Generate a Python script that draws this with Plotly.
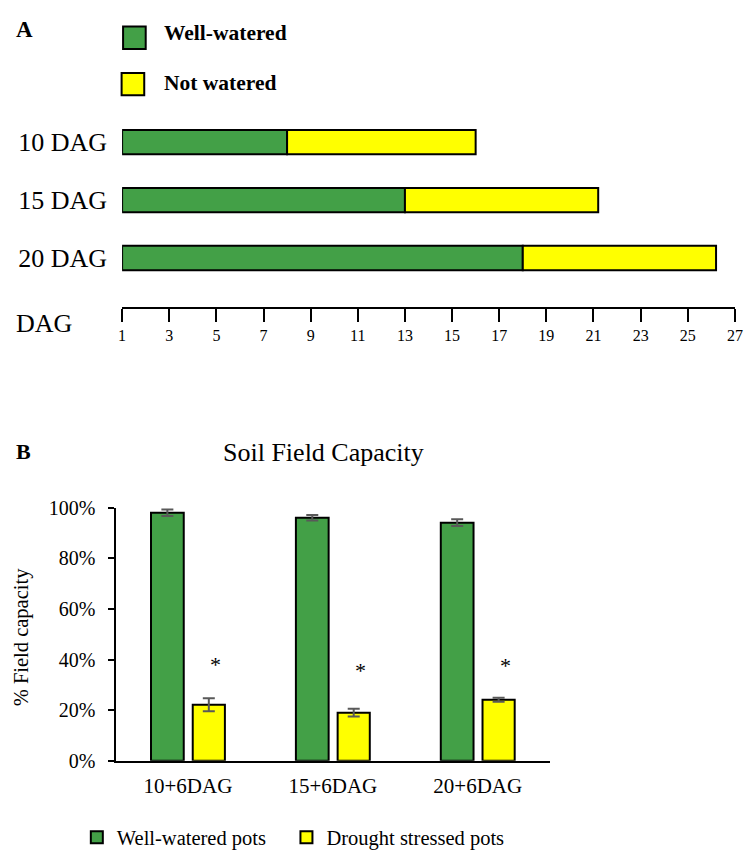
import plotly.graph_objects as go

# ---------------- Panel A data ----------------
stages = ["10 DAG", "15 DAG", "20 DAG"]
watered_start = [1, 1, 1]
watered_end = [8, 13, 18]
stress_end = [16, 21.2, 26.2]
dag_ticks = list(range(1, 28, 2))

# ---------------- Panel B data ----------------
groups = ["10+6DAG", "15+6DAG", "20+6DAG"]
well_fc = [0.981, 0.961, 0.942]
well_err = [0.013, 0.011, 0.013]
drought_fc = [0.221, 0.190, 0.241]
drought_err = [0.026, 0.015, 0.008]
star_y = [0.395, 0.373, 0.391]
fc_ticks = [0, 0.2, 0.4, 0.6, 0.8, 1.0]

GREEN = "#43A047"
YELLOW = "#FFFF00"
FONT = "Liberation Serif"
W, H = 756, 861


def px_x(x):
    return x / W


def px_y(y):
    return 1 - y / H


fig = go.Figure()

# Panel A: timeline bars
fig.add_trace(go.Bar(
    y=stages, x=[e - s for s, e in zip(watered_start, watered_end)], base=watered_start,
    orientation="h", width=0.42, name="Well-watered",
    marker=dict(color=GREEN, line=dict(color="black", width=2)),
    xaxis="x", yaxis="y", showlegend=False))
fig.add_trace(go.Bar(
    y=stages, x=[e - s for s, e in zip(watered_end, stress_end)], base=watered_end,
    orientation="h", width=0.42, name="Not watered",
    marker=dict(color=YELLOW, line=dict(color="black", width=2)),
    xaxis="x", yaxis="y", showlegend=False))

# Panel B: field capacity bars
fig.add_trace(go.Bar(
    x=groups, y=well_fc, name="Well-watered pots", width=0.226, offset=-0.255,
    marker=dict(color=GREEN, line=dict(color="black", width=2)),
    error_y=dict(type="data", array=well_err, color="#595959", thickness=2, width=6),
    xaxis="x2", yaxis="y2", legend="legend"))
fig.add_trace(go.Bar(
    x=groups, y=drought_fc, name="Drought stressed pots", width=0.222, offset=0.033,
    marker=dict(color=YELLOW, line=dict(color="black", width=2)),
    error_y=dict(type="data", array=drought_err, color="#595959", thickness=2, width=6),
    xaxis="x2", yaxis="y2", legend="legend2"))

annotations = [
    dict(text="<b>A</b>", x=px_x(10), y=px_y(19), xanchor="left", yanchor="middle",
         font=dict(size=23)),
    dict(text="<b>Well-watered</b>", x=px_x(161), y=px_y(23), xanchor="left", yanchor="middle",
         font=dict(size=21.5)),
    dict(text="<b>Not watered</b>", x=px_x(161), y=px_y(74), xanchor="left", yanchor="middle",
         font=dict(size=21.5)),
    dict(text="DAG", x=px_x(10), y=px_y(321), xanchor="left", yanchor="middle",
         font=dict(size=26)),
    dict(text="<b>B</b>", x=px_x(10), y=px_y(452), xanchor="left", yanchor="middle",
         font=dict(size=22)),
    dict(text="Soil Field Capacity", x=px_x(325), y=px_y(453), xanchor="center", yanchor="middle",
         font=dict(size=26)),
    dict(text="% Field capacity", x=px_x(18), y=px_y(642), xanchor="center", yanchor="middle",
         textangle=-90, font=dict(size=20.5)),
]
for a in annotations:
    a.update(xref="paper", yref="paper", showarrow=False)
    a["font"].update(family=FONT, color="black")

for g, sy in zip(groups, star_y):
    annotations.append(dict(text="*", x=g, y=sy, xref="x2", yref="y2", xshift=28, yshift=-4,
                            showarrow=False, xanchor="center", yanchor="middle",
                            font=dict(family=FONT, size=22, color="black")))

shapes = [
    dict(type="rect", xref="paper", yref="paper", x0=px_x(121), x1=px_x(144), y0=px_y(39), y1=px_y(16),
         fillcolor=GREEN, line=dict(color="black", width=2)),
    dict(type="rect", xref="paper", yref="paper", x0=px_x(119.5), x1=px_x(142.5), y0=px_y(86.5), y1=px_y(63.5),
         fillcolor=YELLOW, line=dict(color="black", width=2)),
]

legend_common = dict(orientation="h", y=px_y(848), xanchor="left", yanchor="middle",
                     font=dict(family=FONT, size=20.5, color="black"), bgcolor="rgba(0,0,0,0)")

# Panel A geometry: tick 1 at x=120, tick 27 at x=742.7; axis line at y=303.3
fig.update_layout(
    width=W, height=H, margin=dict(l=0, r=0, t=0, b=0),
    paper_bgcolor="white", plot_bgcolor="white",
    font=dict(family=FONT, color="black"),
    barmode="overlay",
    annotations=annotations, shapes=shapes,
    xaxis=dict(domain=[px_x(120), px_x(742.7)], range=[1, 27], anchor="y",
               showline=True, linecolor="black", linewidth=2, mirror=False,
               ticks="outside", ticklen=13, tickwidth=2, tickcolor="black",
               tickvals=dag_ticks, ticktext=[str(t) for t in dag_ticks],
               tickfont=dict(family=FONT, size=16, color="black"), ticklabelstandoff=0,
               showgrid=False, zeroline=False, side="bottom"),
    yaxis=dict(domain=[px_y(303.3), px_y(110)], range=[2.837, -0.412], anchor="x",
               type="category", categoryorder="array", categoryarray=stages,
               showline=False, ticks="", showgrid=False, zeroline=False,
               tickfont=dict(family=FONT, size=26, color="black"), ticklabelstandoff=14),
    xaxis2=dict(domain=[px_x(113.3), px_x(555)], anchor="y2", type="category",
                categoryorder="array", categoryarray=groups, range=[-0.5, 2.5],
                showline=True, linecolor="black", linewidth=2, ticks="",
                tickfont=dict(family=FONT, size=21, color="black"), ticklabelstandoff=5,
                showgrid=False, zeroline=False),
    yaxis2=dict(domain=[px_y(769.3), px_y(510)], anchor="x2", range=[0, 1],
                tickvals=fc_ticks, tickformat=".0%",
                showline=True, linecolor="black", linewidth=2,
                ticks="outside", ticklen=6, tickwidth=2, tickcolor="black",
                tickfont=dict(family=FONT, size=20, color="black"), ticklabelstandoff=8,
                showgrid=False, zeroline=False),
    legend=dict(x=px_x(74), **legend_common),
    legend2=dict(x=px_x(287), **legend_common),
)

fig.write_html("out.html")
